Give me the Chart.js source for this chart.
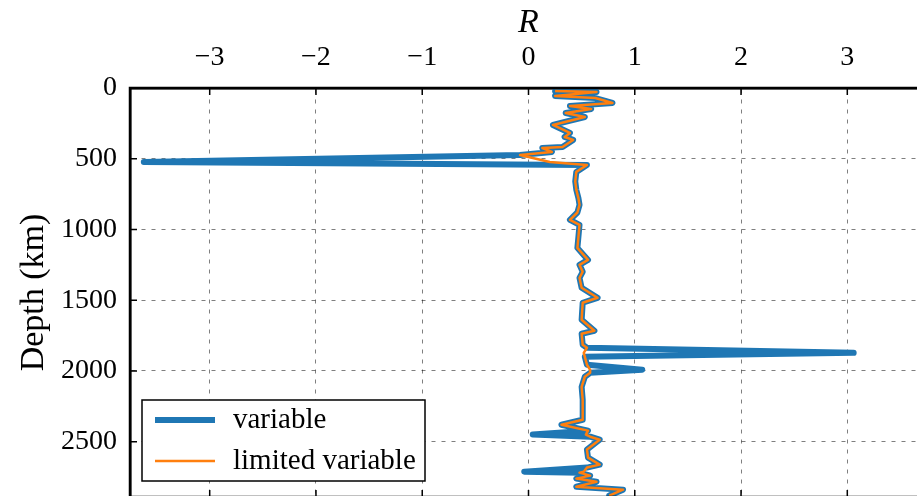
<!DOCTYPE html>
<html>
<head>
    <title>R vs depth</title>
    <script src="https://cdn.jsdelivr.net/npm/chart.js"></script>
    <style>
        html, body { margin: 0; padding: 0; overflow: hidden; background: #fff; }
        .chart-container { width: 927px; height: 500px; }
    </style>
</head>
<body>
    <div class="chart-container">
        <canvas id="depthChart" width="927" height="500"></canvas>
    </div>

    <script>
        // depth (km) of each sample
        const depth = [21, 28, 56, 71, 106, 127, 148, 177, 205, 261, 318, 346, 367, 417, 424, 452, 473, 523, 544, 593,
            660, 720, 780, 826, 880, 932, 967, 1050, 1130, 1215, 1250, 1299, 1342, 1412, 1483, 1518, 1638, 1716, 1737, 1815,
            1836, 1872, 1900, 1956, 1992, 2013, 2041, 2112, 2203, 2345, 2380, 2422, 2450, 2465, 2486, 2556, 2613, 2662, 2683, 2712,
            2719, 2740, 2761, 2783, 2818, 2839, 2881];
        // R, variable
        const variableR = [0.25, 0.64, 0.25, 0.63, 0.79, 0.39, 0.59, 0.35, 0.53, 0.23, 0.39, 0.34, 0.42, 0.32, 0.13, 0.22, -0.08, -3.62, 0.55, 0.45,
            0.44, 0.45, 0.47, 0.48, 0.46, 0.39, 0.48, 0.47, 0.46, 0.56, 0.48, 0.51, 0.48, 0.50, 0.65, 0.51, 0.50, 0.62, 0.50, 0.51,
            0.55, 3.06, 0.53, 0.55, 1.07, 0.58, 0.53, 0.50, 0.51, 0.51, 0.31, 0.56, 0.04, 0.58, 0.67, 0.55, 0.56, 0.67, 0.55, -0.04,
            0.48, 0.58, 0.45, 0.64, 0.45, 0.89, 0.76];
        // R, limited variable
        const limitedR = [0.25, 0.64, 0.25, 0.63, 0.79, 0.39, 0.59, 0.35, 0.53, 0.23, 0.39, 0.34, 0.42, 0.32, 0.13, 0.22, -0.08, 0.20, 0.55, 0.45,
            0.44, 0.45, 0.47, 0.48, 0.46, 0.39, 0.48, 0.47, 0.46, 0.56, 0.48, 0.51, 0.48, 0.50, 0.65, 0.51, 0.50, 0.62, 0.50, 0.51,
            0.55, 0.52, 0.53, 0.55, 0.58, 0.58, 0.53, 0.50, 0.51, 0.51, 0.31, 0.56, 0.54, 0.58, 0.67, 0.55, 0.56, 0.67, 0.55, 0.52,
            0.48, 0.58, 0.45, 0.64, 0.45, 0.89, 0.76];

        const xTicks = [-3, -2, -1, 0, 1, 2, 3];
        const yTicks = [0, 500, 1000, 1500, 2000, 2500];

        const serif = '"Liberation Serif", "DejaVu Serif", serif';

        // matplotlib-like frame, inward ticks and boxed legend
        const framePlugin = {
            id: 'frame',
            afterDraw(chart) {
                const ctx = chart.ctx;
                const a = chart.chartArea;
                const xs = chart.scales.x, ys = chart.scales.y;
                ctx.save();
                ctx.strokeStyle = '#000';
                ctx.lineWidth = 1.5;
                ctx.beginPath();
                xTicks.forEach(v => {
                    const px = xs.getPixelForValue(v);
                    ctx.moveTo(px, a.top); ctx.lineTo(px, a.top + 7);
                    ctx.moveTo(px, a.bottom); ctx.lineTo(px, a.bottom - 7);
                });
                yTicks.forEach(v => {
                    const py = ys.getPixelForValue(v);
                    ctx.moveTo(a.left, py); ctx.lineTo(a.left + 7, py);
                    ctx.moveTo(a.right, py); ctx.lineTo(a.right - 7, py);
                });
                ctx.stroke();
                ctx.lineWidth = 2.5;
                ctx.strokeRect(a.left, a.top, a.right - a.left, a.bottom - a.top);

                // legend
                const lx = 142, ly = 400, lw = 283, lh = 81;
                ctx.fillStyle = '#fff';
                ctx.fillRect(lx, ly, lw, lh);
                ctx.lineWidth = 1.5;
                ctx.strokeRect(lx, ly, lw, lh);
                ctx.font = '29px ' + serif;
                ctx.textBaseline = 'middle';
                chart.data.datasets.forEach((ds, i) => {
                    const y = ly + 20 + i * 41;
                    ctx.strokeStyle = ds.borderColor;
                    ctx.lineWidth = ds.borderWidth;
                    ctx.beginPath();
                    ctx.moveTo(lx + 13, y); ctx.lineTo(lx + 73, y);
                    ctx.stroke();
                    ctx.fillStyle = '#000';
                    ctx.fillText(ds.label, lx + 91, y);
                });
                ctx.restore();
            }
        };

        const ctx = document.getElementById('depthChart').getContext('2d');
        const chart = new Chart(ctx, {
            type: 'scatter',
            data: {
                datasets: [
                    {
                        label: 'variable',
                        data: depth.map((d, i) => ({ x: variableR[i], y: d })),
                        showLine: true,
                        order: 1,
                        borderColor: '#1f77b4',
                        borderWidth: 6,
                        borderJoinStyle: 'round',
                        borderCapStyle: 'round',
                        pointRadius: 0,
                        tension: 0
                    },
                    {
                        label: 'limited variable',
                        data: depth.map((d, i) => ({ x: limitedR[i], y: d })),
                        showLine: true,
                        order: 0,
                        borderColor: '#ff7f0e',
                        borderWidth: 2.5,
                        borderJoinStyle: 'round',
                        pointRadius: 0,
                        tension: 0
                    }
                ]
            },
            plugins: [framePlugin],
            options: {
                responsive: false,
                animation: false,
                devicePixelRatio: 1,
                layout: { padding: { left: 0, top: 0, right: 0, bottom: 3 } },
                plugins: {
                    legend: { display: false },
                    tooltip: { enabled: false }
                },
                scales: {
                    x: {
                        type: 'linear',
                        position: 'top',
                        min: -3.75,
                        max: 3.75,
                        afterBuildTicks: s => { s.ticks = xTicks.map(v => ({ value: v })); },
                        afterFit: s => { s.height = 88; s.paddingLeft = 0; s.paddingRight = 0; },
                        ticks: {
                            padding: 14,
                            color: '#000',
                            font: { family: serif, size: 28 },
                            callback: v => v < 0 ? '\u2212' + Math.abs(v) : String(v)
                        },
                        grid: { color: 'rgba(0,0,0,0.5)', lineWidth: 1, drawTicks: false },
                        border: { color: '#000', width: 2.5, dash: [4, 6] },
                        title: {
                            display: true,
                            text: 'R',
                            color: '#000',
                            font: { family: serif, size: 34, style: 'italic' },
                            padding: { top: 3, bottom: 0 }
                        }
                    },
                    y: {
                        type: 'linear',
                        reverse: true,
                        min: 0,
                        max: 2891,
                        afterBuildTicks: s => { s.ticks = yTicks.map(v => ({ value: v })); },
                        afterFit: s => { s.width = 130; s.paddingTop = 0; s.paddingBottom = 0; },
                        ticks: {
                            padding: 13,
                            color: '#000',
                            font: { family: serif, size: 28 },
                            callback: v => String(v)
                        },
                        grid: { color: 'rgba(0,0,0,0.5)', lineWidth: 1, drawTicks: false },
                        border: { color: '#000', width: 2.5, dash: [4, 6] },
                        title: {
                            display: true,
                            text: 'Depth (km)',
                            color: '#000',
                            font: { family: serif, size: 34 },
                            padding: { top: 14, bottom: 0 }
                        }
                    }
                }
            }
        });
    </script>
</body>
</html>
